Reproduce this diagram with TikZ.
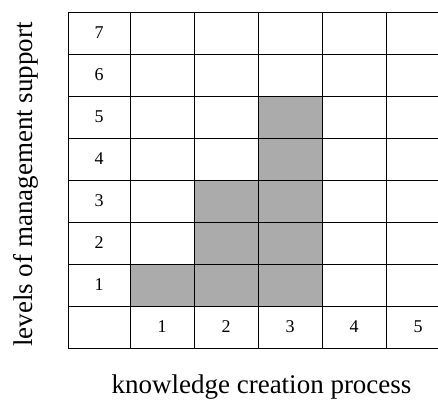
\documentclass[tikz,border=0pt]{standalone}
\usepackage{fontspec}
\setmainfont{Liberation Serif}
\usetikzlibrary{positioning}

\begin{document}
\begin{tikzpicture}[
    x=1pt, y=1pt,
    cell/.style={rectangle, draw, line width=0.7pt, minimum width=64pt, minimum height=42pt,
                 inner sep=0pt, outer sep=0pt, font=\fontsize{18}{21}\selectfont},
    lvl/.style={cell, minimum width=62pt},
    axis/.style={font=\fontsize{27}{32}\selectfont, inner sep=0pt, anchor=base}
]
    \useasboundingbox (0,0) rectangle (438,401);
    \clip (0,0) rectangle (438,401);

    % Steps of the process, shaded up to the supported level
    \foreach \c/\h in {1/1,2/3,3/5,4/0,5/0} {
        \node[cell] (c\c-0) at (98+64*\c,74) {\c};
        \foreach \r in {1,...,7} {
            \ifnum\r>\h \def\shade{white}\else\def\shade{black!33}\fi
            \node[cell, fill=\shade] (c\c-\r) at (98+64*\c,74+42*\r) {};
        }
    }

    % Levels column
    \node[lvl, left=0pt of c1-0] (l0) {};
    \foreach \r in {1,...,7}
        \node[lvl, left=0pt of c1-\r] (l\r) {\r};

    \node[axis] (steps) at (261.5,8) {knowledge creation process};
    \node[axis, rotate=90] (levels) at (32,216.5) {levels of management support};
\end{tikzpicture}
\end{document}
